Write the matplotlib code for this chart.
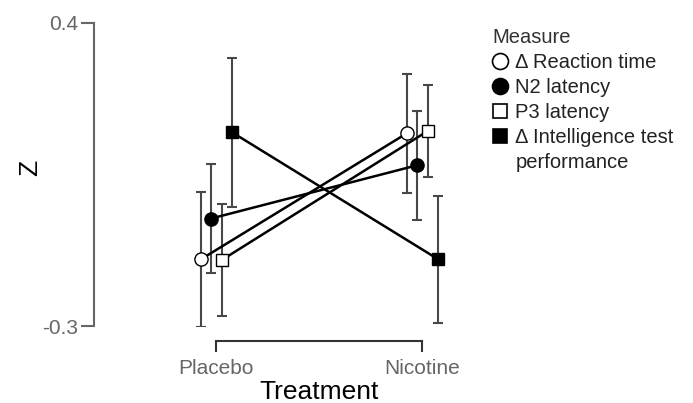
import matplotlib
matplotlib.use("Agg")
import matplotlib.pyplot as plt
from matplotlib.lines import Line2D

plt.rcParams['font.family'] = ['Liberation Sans', 'DejaVu Sans']

treatments = ['Placebo', 'Nicotine']
measures = ['\u0394 Reaction time', 'N2 latency', 'P3 latency', '\u0394 Intelligence test']
means = [[-0.146, 0.145],
         [-0.052, 0.071],
         [-0.148, 0.150],
         [0.147, -0.146]]
errs = [[0.156, 0.137],
        [0.125, 0.126],
        [0.129, 0.106],
        [0.172, 0.147]]
offsets = [-0.073, -0.024, 0.027, 0.078]
markers = ['o', 'o', 's', 's']
faces = ['white', 'black', 'white', 'black']
msizes = [9.5, 9.5, 8.5, 8.5]
leg_sizes = [11.5, 11.5, 10, 10]

grey = '#666666'

fig = plt.figure(figsize=(6.93, 4.03), dpi=100)
ax = fig.add_axes([94 / 693, 77 / 403, 366 / 693, 303.3 / 403])

for i in range(len(measures)):
    xs = [j + offsets[i] for j in range(len(treatments))]
    ax.plot(xs, means[i], color='black', lw=1.8, zorder=2)
    ax.errorbar(xs, means[i], yerr=errs[i], fmt='none', ecolor='#484848',
                elinewidth=1.5, capsize=3.8, capthick=1.5, zorder=1)
    ax.plot(xs, means[i], ls='none', marker=markers[i], ms=msizes[i],
            mfc=faces[i], mec='black', mew=1.0, zorder=3)

ax.set_xlim(-0.592, 1.184)
ax.set_ylim(-0.3, 0.4)
ax.set_yticks([-0.3, 0.4])
ax.set_yticklabels(['-0.3', '0.4'])
ax.set_xticks([0, 1])
ax.set_xticklabels(treatments)

for s in ['top', 'right']:
    ax.spines[s].set_visible(False)
ax.spines['left'].set_color(grey)
ax.spines['left'].set_linewidth(1.5)
ax.spines['bottom'].set_color('#333333')
ax.spines['bottom'].set_linewidth(1.5)
ax.spines['bottom'].set_bounds(0, 1)
ax.spines['bottom'].set_position(('outward', 11))

ax.tick_params(axis='y', direction='out', length=9.5, width=1.5, color=grey,
               labelcolor=grey, labelsize=15, pad=2)
ax.tick_params(axis='x', direction='out', length=8, width=1.5, color='#333333',
               labelcolor=grey, labelsize=15, pad=4.5)

ax.set_ylabel('Z', fontsize=19)
ax.yaxis.set_label_coords(-0.143, 0.52)
ax.set_xlabel('Treatment', fontsize=19)
ax.xaxis.set_label_coords((319 - 94) / 366, -0.178)

handles = [Line2D([], [], ls='none', marker=markers[i], ms=leg_sizes[i],
                  mfc=faces[i], mec='black', mew=1.2) for i in range(4)]
handles.append(Line2D([], [], ls='none'))
labels = measures + ['performance']
leg = fig.legend(handles, labels, title='Measure', loc='upper left',
                 bbox_to_anchor=(484 / 693, 1 - 20 / 403), frameon=False,
                 fontsize=14.5, title_fontsize=14.5, alignment='left',
                 handlelength=0.8, handletextpad=0.35, labelspacing=0.3,
                 borderaxespad=0, labelcolor='#222222')
leg.get_title().set_color('#333333')

fig.savefig('out.png', dpi=100)
